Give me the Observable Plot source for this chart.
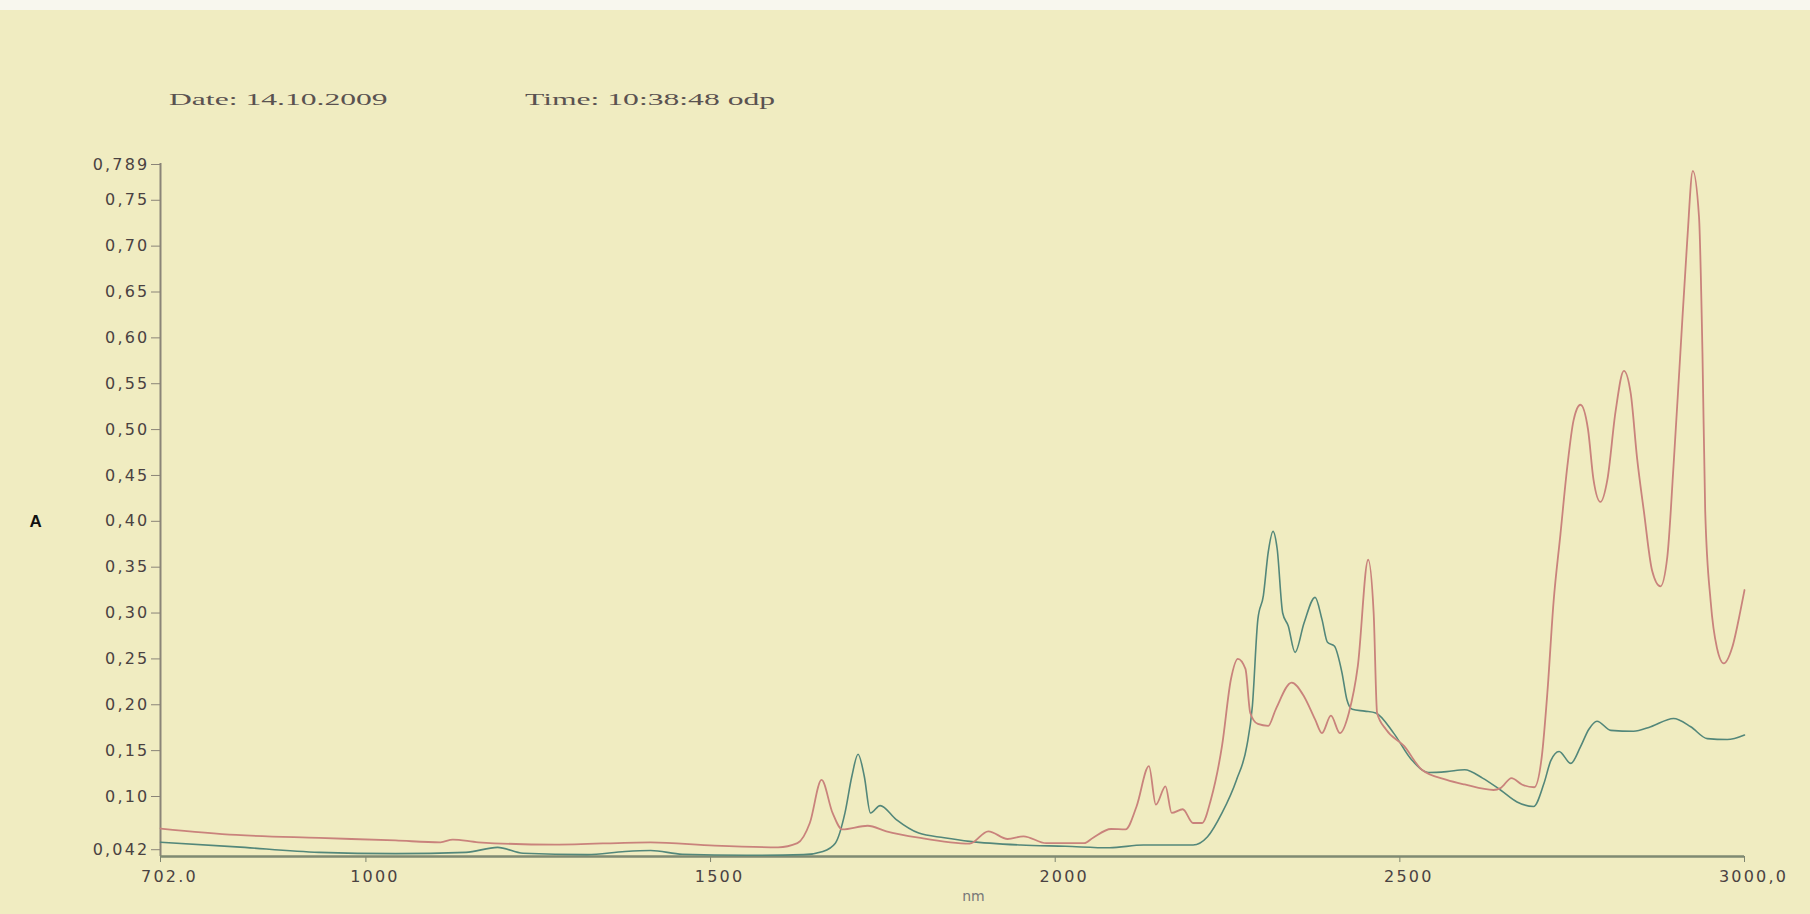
<!DOCTYPE html>
<html><head><meta charset="utf-8">
<script src="https://cdn.jsdelivr.net/npm/d3@7"></script>
<script src="https://cdn.jsdelivr.net/npm/@observablehq/plot@0.6"></script>
<style>
html,body{margin:0;padding:0;background:#f0ecc1;width:1810px;height:914px;overflow:hidden}
#top{height:10px;background:#f8f7ee}
#header{position:relative;height:110px}
.hd{position:absolute;top:80px;font-family:"Liberation Serif",serif;font-size:17px;color:#5a5250;transform:scaleX(1.86);transform-origin:left center;white-space:nowrap}
#chart svg{display:block}
</style></head><body>
<div id="top"></div>
<div id="header"><span class="hd" style="left:169px">Date: 14.10.2009</span><span class="hd" style="left:525px">Time: 10:38:48 odp</span></div>
<div id="chart"></div>
<script>
// wavelength (nm) and absorbance (A)
const redNm = [702,812,932,1043,1108,1126,1163,1274,1413,1506,1598,1626,1644,1661,1677,1691,1728,1755,1802,1876,1903,1931,1954,1987,2042,2055,2081,2102,2118,2136,2146,2160,2169,2185,2200,2213,2226,2242,2255,2265,2276,2283,2294,2309,2320,2343,2361,2377,2387,2400,2413,2426,2439,2454,2462,2467,2480,2506,2532,2568,2594,2636,2646,2662,2677,2695,2706,2714,2723,2733,2743,2752,2762,2773,2781,2791,2801,2813,2825,2835,2844,2854,2866,2878,2888,2897,2907,2917,2925,2934,2939,2943,2951,2960,2970,2982,2994,3000];
const redA  = [0.064,0.057,0.0537,0.051,0.049,0.052,0.049,0.0464,0.049,0.0453,0.0435,0.048,0.070,0.117,0.081,0.063,0.067,0.061,0.054,0.0475,0.061,0.0526,0.0555,0.048,0.048,0.054,0.0635,0.063,0.088,0.132,0.090,0.110,0.081,0.085,0.070,0.070,0.096,0.154,0.227,0.249,0.238,0.190,0.178,0.176,0.194,0.223,0.208,0.183,0.168,0.187,0.168,0.190,0.241,0.357,0.299,0.190,0.172,0.154,0.128,0.117,0.112,0.106,0.108,0.119,0.112,0.109,0.143,0.212,0.311,0.385,0.459,0.509,0.526,0.499,0.444,0.420,0.444,0.519,0.563,0.538,0.469,0.410,0.345,0.328,0.360,0.459,0.583,0.706,0.781,0.731,0.583,0.410,0.311,0.261,0.244,0.261,0.301,0.324];
const greenNm = [702,812,932,1043,1145,1191,1228,1321,1376,1413,1459,1552,1635,1663,1681,1695,1705,1714,1723,1732,1746,1769,1802,1839,1876,1950,2015,2079,2128,2200,2221,2242,2263,2278,2286,2294,2302,2309,2316,2322,2330,2338,2348,2361,2377,2387,2395,2405,2416,2423,2431,2449,2465,2491,2517,2542,2568,2594,2620,2646,2670,2694,2709,2719,2731,2748,2762,2774,2786,2806,2839,2864,2897,2922,2946,2975,3000];
const greenA  = [0.049,0.044,0.038,0.0366,0.038,0.0435,0.037,0.0355,0.039,0.040,0.036,0.0348,0.0355,0.039,0.048,0.081,0.121,0.145,0.121,0.081,0.089,0.074,0.059,0.054,0.050,0.046,0.0446,0.043,0.046,0.046,0.055,0.081,0.117,0.154,0.197,0.292,0.318,0.365,0.388,0.369,0.299,0.285,0.256,0.288,0.316,0.292,0.267,0.263,0.234,0.205,0.194,0.192,0.190,0.168,0.139,0.125,0.126,0.128,0.119,0.106,0.093,0.088,0.113,0.138,0.148,0.135,0.153,0.172,0.181,0.171,0.170,0.175,0.184,0.175,0.162,0.161,0.166];

const xDomain = [702, 3000];
const yDomain = [0.0335, 0.789];
const xTicks = [702, 1000, 1500, 2000, 2500, 3000];
const xTickLabels = ["702.0", "1000", "1500", "2000", "2500", "3000,0"];
const yTicks = [0.042, 0.10, 0.15, 0.20, 0.25, 0.30, 0.35, 0.40, 0.45, 0.50, 0.55, 0.60, 0.65, 0.70, 0.75, 0.789];
const yTickLabels = ["0,042","0,10","0,15","0,20","0,25","0,30","0,35","0,40","0,45","0,50","0,55","0,60","0,65","0,70","0,75","0,789"];
const axisTitleY = [{text: "A", y: 0.40}];

const red = redNm.map((n, i) => ({nm: n, a: redA[i]}));
const green = greenNm.map((n, i) => ({nm: n, a: greenA[i]}));
const xMap = new Map(xTicks.map((t, i) => [t, xTickLabels[i]]));
const yMap = new Map(yTicks.map((t, i) => [t, yTickLabels[i]]));

const chart = Plot.plot({
  width: 1810, height: 794,
  marginLeft: 160, marginRight: 66, marginTop: 43, marginBottom: 58,
  style: {background: "transparent", fontFamily: "'DejaVu Sans', sans-serif", fontSize: "15px", color: "#4d4545"},
  x: {domain: xDomain},
  y: {domain: yDomain},
  marks: [
    Plot.axisY({ticks: yTicks, tickFormat: d => yMap.get(d), tickSize: 9, tickPadding: 2, dy: 1, label: null, stroke: "#8a8478", fill: "#4a4242"}),
    Plot.axisX({ticks: xTicks, tickFormat: d => xMap.get(d), tickSize: 6, tickPadding: 8, label: "nm", labelAnchor: "center", labelArrow: "none", labelOffset: 44, stroke: "#7d8470", fill: "#4a4242"}),
    Plot.ruleX([xDomain[0]], {stroke: "#8a8478", strokeWidth: 2}),
    Plot.ruleY([yDomain[0]], {stroke: "#7f8a72", strokeWidth: 2.5}),
    Plot.line(green, {x: "nm", y: "a", stroke: "#53877a", strokeWidth: 1.6, curve: "monotone-x"}),
    Plot.line(red, {x: "nm", y: "a", stroke: "#c9837c", strokeWidth: 1.8, curve: "monotone-x"}),
    Plot.text(axisTitleY, {text: "text", y: "y", frameAnchor: "left", dx: -131, dy: 1, fontWeight: "bold", fontSize: 17, fill: "#111", fontFamily: "'Liberation Sans', sans-serif"})
  ]
});
document.getElementById("chart").appendChild(chart);
d3.select(chart).selectAll('[aria-label="y-axis tick label"] text, [aria-label="x-axis tick label"] text').style("letter-spacing", "2.2px").style("font-size", "16px");
d3.select(chart).selectAll('[aria-label="x-axis tick label"] text').attr("dx", 9);
d3.select(chart).selectAll('[aria-label="x-axis label"] text').style("font-size", "14px").style("fill", "#777").attr("dx", 21);
</script>
</body></html>
